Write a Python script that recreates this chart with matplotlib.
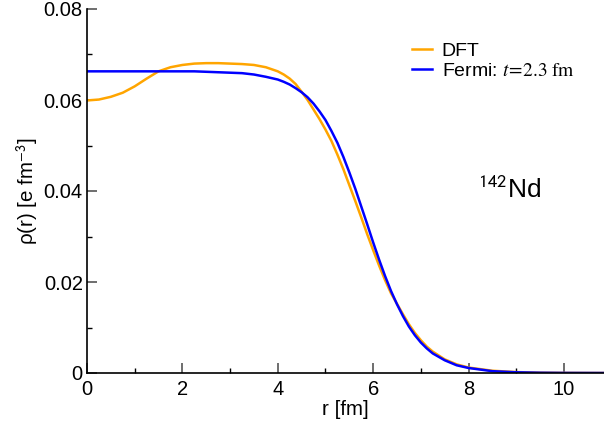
import matplotlib
matplotlib.use('Agg')
import matplotlib.pyplot as plt
from matplotlib.ticker import MultipleLocator

plt.rcParams['font.family'] = ['Liberation Sans', 'DejaVu Sans']
plt.rcParams['mathtext.fontset'] = 'stix'

# radius grid (fm) and densities
r = [0.0, 0.25, 0.5, 0.75, 1.0, 1.25, 1.5, 1.75, 2.0, 2.25, 2.5, 2.75,
     3.0, 3.25, 3.5, 3.75, 4.0, 4.125, 4.25, 4.375, 4.5, 4.625, 4.75,
     4.875, 5.0, 5.125, 5.25, 5.375, 5.5, 5.625, 5.75, 5.875, 6.0, 6.125,
     6.25, 6.375, 6.5, 6.625, 6.75, 6.875, 7.0, 7.125, 7.25, 7.5, 7.75,
     8.0, 8.5, 9.0, 9.5, 10.0, 10.5, 11.0]

rho_dft = [0.0599, 0.0601, 0.0607, 0.0616, 0.0630, 0.0647, 0.0663, 0.0672,
           0.0677, 0.0680, 0.0681, 0.0681, 0.0680, 0.0679, 0.0677, 0.0672,
           0.0663, 0.0656, 0.0647, 0.0635, 0.0618, 0.0600, 0.0579, 0.0558,
           0.0535, 0.0510, 0.0480, 0.0448, 0.0413, 0.0378, 0.0342, 0.0305,
           0.0270, 0.0236, 0.0204, 0.0175, 0.0152, 0.0129, 0.0107, 0.0088,
           0.0072, 0.0058, 0.0047, 0.0030, 0.0019, 0.0012, 0.0005, 0.0002,
           0.00007, 0.00003, 0.00001, 0.0]

rho_fermi = [0.0663, 0.0663, 0.0663, 0.0663, 0.0663, 0.0663, 0.0663, 0.0663,
             0.0663, 0.0663, 0.0662, 0.0661, 0.0660, 0.0659, 0.0656, 0.0651,
             0.0645, 0.0640, 0.0634, 0.0626, 0.0617, 0.0606, 0.0592, 0.0575,
             0.0556, 0.0532, 0.0506, 0.0475, 0.0441, 0.0405, 0.0366, 0.0327,
             0.0287, 0.0249, 0.0213, 0.0180, 0.0151, 0.0125, 0.0102, 0.0083,
             0.0067, 0.0054, 0.0043, 0.0028, 0.0017, 0.0011, 0.0004, 0.00016,
             0.00006, 0.00002, 0.00001, 0.0]

fig = plt.figure(figsize=(6.04, 4.29), dpi=100)
ax = fig.add_axes([87/604, 56/429, 1 - 87/604, 364/429])

ax.plot(r, rho_dft, color='orange', lw=1.8, label='DFT')
ax.plot(r, rho_fermi, color='blue', lw=1.8,
        label=r'Fermi: $\mathit{t}\!=\!\mathit{2.3}\ \mathrm{fm}$')

ax.set_xlim(0, 10.84)
ax.set_ylim(0, 0.08)
ax.xaxis.set_major_locator(MultipleLocator(2))
ax.xaxis.set_minor_locator(MultipleLocator(1))
ax.set_yticks([0, 0.02, 0.04, 0.06, 0.08])
ax.set_yticklabels(['0', '0.02', '0.04', '0.06', '0.08'])
ax.yaxis.set_minor_locator(MultipleLocator(0.01))

ax.spines['top'].set_visible(False)
ax.spines['right'].set_visible(False)
for s in ['left', 'bottom']:
    ax.spines[s].set_linewidth(1.2)

ax.tick_params(which='major', direction='in', length=7.2, width=1.4, color='#6e6e6e',
               labelsize=14.5)
ax.tick_params(axis='x', which='major', pad=5)
ax.tick_params(axis='y', which='major', pad=3)
ax.tick_params(which='minor', direction='in', length=3.6, width=1.0, color='black')

ax.set_xlabel('r [fm]', fontsize=14.8, labelpad=1)
ax.set_ylabel(r'ρ(r) [e fm$^{\mathsf{-3}}$]', fontsize=14.8, labelpad=3)

ax.legend(frameon=False, loc='upper left', bbox_to_anchor=(0.628, 0.908),
          fontsize=14, handlelength=1.03, handletextpad=0.52, labelspacing=0.1,
          borderpad=0, borderaxespad=0)

ax.text(0.756, 0.482, r'$^{\mathsf{142}}$Nd', transform=ax.transAxes,
        fontsize=19, va='baseline')

fig.savefig('out.png', dpi=100)
